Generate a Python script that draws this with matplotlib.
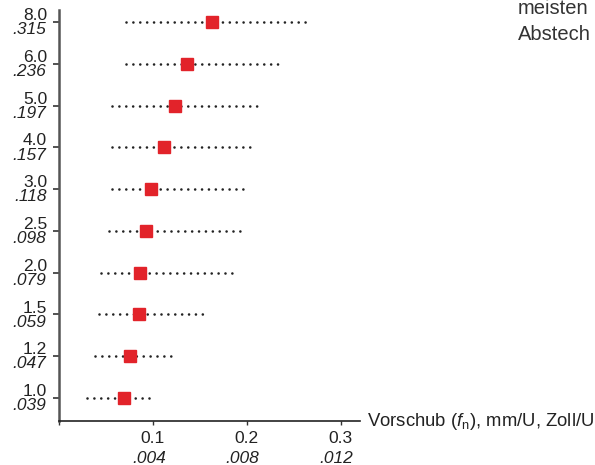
import matplotlib
matplotlib.use("Agg")
import matplotlib.pyplot as plt

plt.rcParams['font.family'] = ['Liberation Sans', 'DejaVu Sans']
plt.rcParams['mathtext.fontset'] = 'custom'
plt.rcParams['mathtext.rm'] = 'Liberation Sans'
plt.rcParams['mathtext.it'] = 'Liberation Sans:italic'

# Breite (mm / Zoll), von unten nach oben
width_mm = ["1.0", "1.2", "1.5", "2.0", "2.5", "3.0", "4.0", "5.0", "6.0", "8.0"]
width_in = [".039", ".047", ".059", ".079", ".098", ".118", ".157", ".197", ".236", ".315"]

# Vorschub mm/U: min, empfohlen, max
feed_min = [0.030, 0.038, 0.043, 0.045, 0.053, 0.057, 0.057, 0.057, 0.071, 0.071]
feed_rec = [0.069, 0.076, 0.085, 0.086, 0.093, 0.098, 0.112, 0.124, 0.136, 0.163]
feed_max = [0.102, 0.124, 0.157, 0.188, 0.195, 0.200, 0.207, 0.213, 0.235, 0.264]

xticks_mm = ["0.1", "0.2", "0.3"]
xticks_in = [".004", ".008", ".012"]
xtick_pos = [0.1, 0.2, 0.3]

fs = 12.5

fig = plt.figure(figsize=(5.95, 4.65), dpi=100)
ax = fig.add_axes([59 / 595, 1 - 421 / 465, (360 - 59) / 595, (421 - 10) / 465])

ypos = list(range(len(width_mm)))
for y, a, m, b in zip(ypos, feed_min, feed_rec, feed_max):
    ax.plot([a, b], [y, y], color="#222222", lw=1.9,
            linestyle=(0, (0.01, 2.6)), dash_capstyle="round", zorder=2)
    ax.plot([m], [y], marker="s", ms=8.5, color="#e2232a",
            markeredgecolor="#e2232a", zorder=3)

ax.set_xlim(0, 0.3207)
ax.set_ylim(-0.55, 9.29)

for s in ["top", "right"]:
    ax.spines[s].set_visible(False)
ax.spines["left"].set_color("#555555")
ax.spines["left"].set_linewidth(1.8)
ax.spines["bottom"].set_color("#222222")
ax.spines["bottom"].set_linewidth(1.2)

ax.set_yticks(ypos)
ax.set_yticklabels([])
ax.tick_params(axis="y", direction="out", length=4, width=1.2, color="#333333")
ax.set_xticks([0] + xtick_pos)
ax.set_xticklabels([])
ax.tick_params(axis="x", direction="out", length=3, width=1, color="#333333")

for y, t1, t2 in zip(ypos, width_mm, width_in):
    ax.annotate(t1, xy=(0, y), xycoords=("axes fraction", "data"),
                xytext=(-8.5, 1.4), textcoords="offset points",
                ha="right", va="baseline", fontsize=fs, color="#222222")
    ax.annotate(t2, xy=(0, y), xycoords=("axes fraction", "data"),
                xytext=(-9, -8.8), textcoords="offset points",
                ha="right", va="baseline", fontsize=fs, style="italic",
                color="#222222")

for x, t1, t2 in zip(xtick_pos, xticks_mm, xticks_in):
    ax.annotate(t1, xy=(x, 0), xycoords=("data", "axes fraction"),
                xytext=(0, -15.8), textcoords="offset points",
                ha="center", va="baseline", fontsize=fs, color="#222222")
    ax.annotate(t2, xy=(x, 0), xycoords=("data", "axes fraction"),
                xytext=(-3, -30), textcoords="offset points",
                ha="center", va="baseline", fontsize=fs, style="italic",
                color="#222222")

ax.annotate(r"Vorschub ($f_\mathrm{n}$), mm/U, Zoll/U", xy=(1, 0),
            xycoords="axes fraction", xytext=(5, 0), textcoords="offset points",
            ha="left", va="center", fontsize=13.3, color="#222222")

# angeschnittener Fliesstext rechts oben
fig.text(518 / 595, 1 - 9 / 465, "meisten", fontsize=14.5, color="#333333",
         ha="left", va="center")
fig.text(518 / 595, 1 - 35 / 465, "Abstech", fontsize=14.5, color="#333333",
         ha="left", va="center")

fig.savefig("out.png", dpi=100)
